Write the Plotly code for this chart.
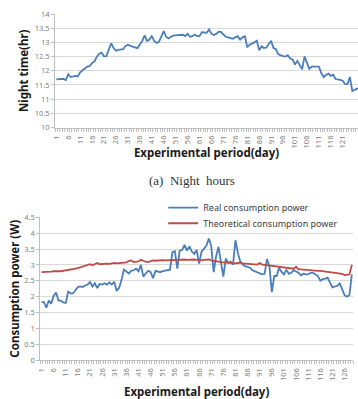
import plotly.graph_objects as go

days = list(range(1, 130))
tick_days = list(range(1, 127, 5))
tick_labels = [str(d) for d in tick_days]

night_hours = [
    11.70, 11.71, 11.70, 11.72, 11.67, 11.88, 11.78, 11.80, 11.82, 11.80,
    11.95, 12.02, 12.10, 12.15, 12.16, 12.28, 12.33, 12.50, 12.60, 12.64,
    12.51, 12.52, 12.75, 12.97, 12.80, 12.71, 12.74, 12.74, 12.76, 12.88,
    12.92, 12.88, 12.85, 12.83, 12.80, 12.93, 13.05, 13.25, 13.05, 13.10,
    13.22, 13.05, 12.98, 13.02, 13.22, 13.40, 13.20, 13.14, 13.20, 13.24,
    13.25, 13.25, 13.26, 13.27, 13.22, 13.30, 13.20, 13.22, 13.28, 13.22,
    13.22, 13.36, 13.35, 13.34, 13.46, 13.30, 13.26, 13.30, 13.38, 13.37,
    13.28, 13.20, 13.18, 13.16, 13.13, 13.18, 13.22, 13.10, 13.18, 13.22,
    12.83, 12.92, 12.95, 13.00, 13.06, 12.72, 12.86, 12.80, 12.82, 12.95,
    13.06, 12.80, 12.76, 12.58, 12.54, 12.52, 12.50, 12.55, 12.43, 12.40,
    12.22, 12.35, 12.20, 12.05, 12.51, 12.32, 12.07, 12.15, 12.15, 12.15,
    12.15, 11.92, 11.78, 11.85, 11.90, 11.82, 11.86, 11.71, 11.70, 11.68,
    11.65, 11.53, 11.53, 11.78, 11.29, 11.34, 11.37, 11.38, 11.40,
]

real_power = [
    1.83, 1.83, 1.65, 1.88, 1.78, 2.02, 2.13, 1.88, 1.87, 1.82,
    1.80, 2.16, 2.10, 2.10, 2.20, 2.30, 2.32, 2.30, 2.35, 2.38,
    2.46, 2.32, 2.42, 2.27, 2.40, 2.38, 2.42, 2.38, 2.45, 2.38,
    2.47, 2.18, 2.28, 2.52, 2.85, 2.78, 2.73, 2.81, 2.83, 2.88,
    2.80, 3.00, 2.63, 2.73, 2.81, 2.78, 2.58, 2.81, 2.78, 2.77,
    2.80, 2.81, 2.83, 2.85, 3.40, 3.43, 2.88, 3.45, 3.47, 3.63,
    3.45, 3.58, 3.42, 3.35, 3.47, 3.04, 3.42, 3.52, 3.60, 3.83,
    3.60, 2.77, 3.26, 3.57, 3.06, 2.63, 3.20, 3.06, 3.10, 3.01,
    3.78, 3.37, 3.11, 3.01, 2.96, 2.93, 2.91, 2.83, 2.80, 2.77,
    2.73, 2.70, 2.72, 3.18, 2.96, 2.14, 2.65, 2.65, 2.91, 2.78,
    2.70, 2.85, 2.72, 2.75, 2.83, 2.80, 2.75, 2.67, 2.72, 2.70,
    2.70, 2.75, 2.75, 2.70, 2.65, 2.50, 2.55, 2.57, 2.60, 2.44,
    2.29, 2.32, 2.34, 2.42, 2.22, 2.05, 2.00, 2.05, 2.70,
]

theoretical_power = [
    2.77, 2.77, 2.78, 2.78, 2.79, 2.80, 2.79, 2.80, 2.80, 2.81,
    2.82, 2.83, 2.84, 2.86, 2.88, 2.90, 2.92, 2.95, 2.96, 2.98,
    3.02, 2.99, 3.03, 3.06, 3.02, 3.03, 3.04, 3.04, 3.03, 3.05,
    3.06, 3.05, 3.06, 3.07, 3.09, 3.08, 3.12, 3.14, 3.09, 3.10,
    3.11, 3.16, 3.12, 3.10, 3.09, 3.12, 3.14, 3.13, 3.14, 3.14,
    3.15, 3.14, 3.15, 3.15, 3.16, 3.15, 3.16, 3.17, 3.16, 3.17,
    3.16, 3.17, 3.18, 3.17, 3.16, 3.15, 3.14, 3.16, 3.17, 3.17,
    3.14, 3.12, 3.11, 3.10, 3.09, 3.08, 3.07, 3.06, 3.05, 3.04,
    3.05, 3.06, 3.07, 3.05, 3.04, 3.05, 3.03, 3.02, 3.02, 3.01,
    3.06, 3.01, 3.00, 2.99, 2.98, 2.97, 2.97, 2.96, 2.96, 2.95,
    2.94, 2.92, 2.91, 2.90, 2.88, 2.94, 2.86, 2.86, 2.85, 2.86,
    2.85, 2.84, 2.83, 2.82, 2.81, 2.81, 2.80, 2.78, 2.78, 2.77,
    2.75, 2.75, 2.74, 2.73, 2.72, 2.68, 2.69, 2.70, 3.00,
]

W, H = 358, 399
BLUE = "#4A7EBB"
RED = "#BE4B48"
GRID = "#D9D9D9"
AXIS = "#BFBFBF"
TICKFONT = dict(family="Noto Sans", size=7.5, color="#7F7F7F")
TITLEFONT = dict(family="Noto Sans", size=11.5, color="#1a1a1a")
LEGFONT = dict(family="Noto Sans", size=9, color="#404040")

fig = go.Figure()
fig.add_trace(go.Scatter(x=days, y=night_hours, mode="lines", line=dict(color=BLUE, width=1.8),
                         xaxis="x", yaxis="y", showlegend=False, name="Night time"))
fig.add_trace(go.Scatter(x=days, y=real_power, mode="lines", line=dict(color=BLUE, width=1.8),
                         xaxis="x2", yaxis="y2", name="Real consumption power", legend="legend"))
fig.add_trace(go.Scatter(x=days, y=theoretical_power, mode="lines", line=dict(color=RED, width=1.8),
                         xaxis="x2", yaxis="y2", name="Theoretical consumption power", legend="legend2"))

def xax(domain, rng, anchor, standoff):
    return dict(domain=domain, range=rng, anchor=anchor, tickvals=tick_days, ticktext=tick_labels,
                tickangle=-90, tickfont=TICKFONT, showgrid=False, zeroline=False,
                showline=True, linecolor=AXIS, linewidth=1, ticks="", ticklabelstandoff=4,
                minor=dict(tick0=0.5, dtick=1, ticks="outside", ticklen=3, tickcolor=AXIS, showgrid=False),
                title=dict(text="<b>Experimental period(day)</b>", font=TITLEFONT, standoff=standoff))

def yax(domain, rng, dtick, anchor, title, standoff):
    return dict(domain=domain, range=rng, anchor=anchor, dtick=dtick, tickfont=TICKFONT,
                showgrid=True, gridcolor=GRID, gridwidth=1, zeroline=False,
                showline=True, linecolor=AXIS, linewidth=1, ticks="outside", ticklen=3, tickcolor=AXIS,
                title=dict(text="<b>" + title + "</b>", font=TITLEFONT, standoff=standoff))

def leg(top_px):
    return dict(x=161 / W, y=1 - top_px / H, xanchor="left", yanchor="top", bgcolor="rgba(0,0,0,0)",
                font=LEGFONT, itemwidth=30)

fig.update_layout(
    width=W, height=H, margin=dict(l=0, r=0, t=0, b=0),
    paper_bgcolor="white", plot_bgcolor="white",
    xaxis=xax([51.7 / W, 1.0], [0.5, 127.4], "y", 1),
    yaxis=yax([1 - 125.7 / H, 1 - 9.3 / H], [10, 14], 0.5, "x", "Night time(hr)", 3),
    xaxis2=xax([36.7 / W, 353 / W], [0.5, 129.5], "y2", 7),
    yaxis2=yax([1 - 364.3 / H, 1 - 217.7 / H], [0, 4.5], 0.5, "x2", "Consumption power (W)", 2),
    legend=leg(193),
    legend2=leg(209),
    annotations=[dict(text="(a)  Night  hours", x=190 / W, y=1 - 180 / H, xref="paper", yref="paper",
                      showarrow=False, xanchor="center", yanchor="middle",
                      font=dict(family="Liberation Serif", size=13, color="#333333"))],
)

fig.write_html("out.html")
